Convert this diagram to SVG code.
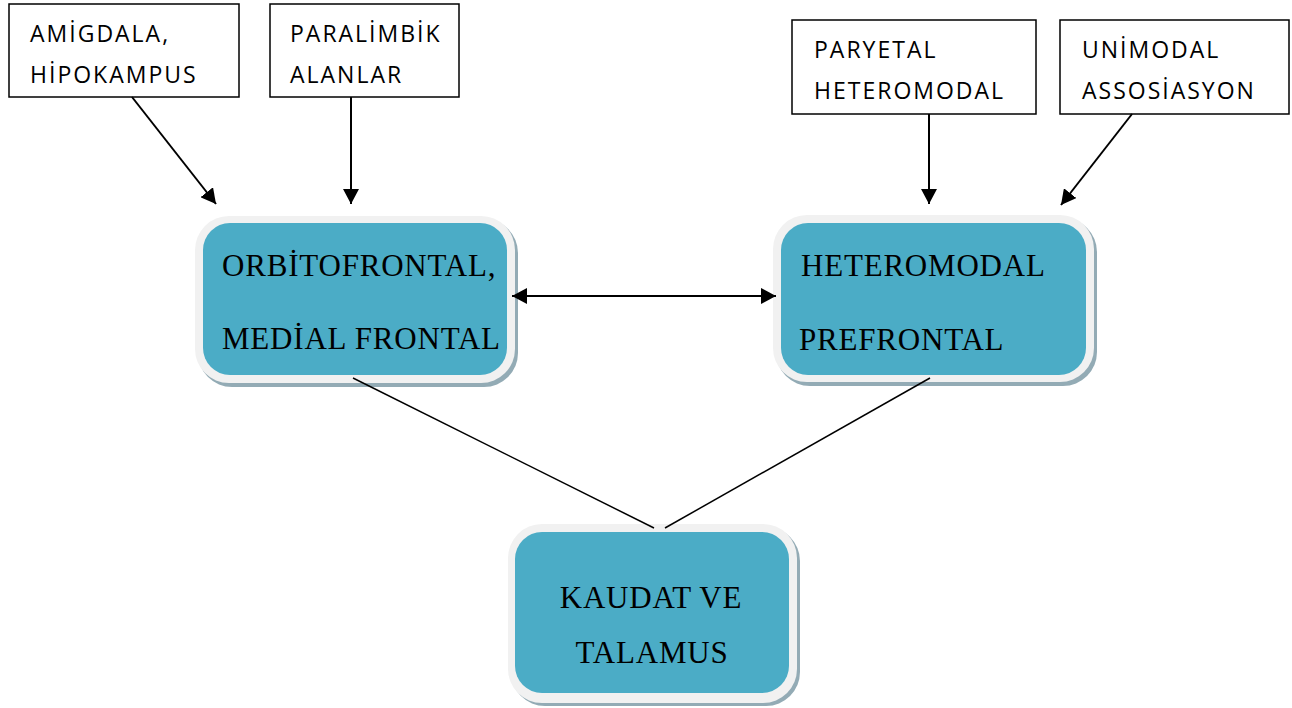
<svg xmlns="http://www.w3.org/2000/svg" width="1292" height="708" viewBox="0 0 1292 708">
<style>
.box{fill:#fff;stroke:#000;stroke-width:1.5}
.lbl{font-family:"Open Sans","Liberation Sans",sans-serif;font-size:23px;letter-spacing:2px;fill:#000}
.shadow{fill:#93abb5}
.outer{fill:#f1f1f1}
.inner{fill:#4bacc6}
.big{font-family:"Liberation Serif","Times New Roman",serif;font-size:31px;letter-spacing:0.8px;fill:#000}
.conn{stroke:#000;stroke-width:2;fill:none}
.plain{stroke:#000;stroke-width:1.5;fill:none}
</style>
<defs>
<marker id="ah" markerUnits="userSpaceOnUse" markerWidth="16" markerHeight="16" viewBox="0 0 16 16" refX="15" refY="8" orient="auto-start-reverse">
<path d="M0,0 L15,8 L0,16 Z" fill="#000"/>
</marker>
</defs>
<rect width="1292" height="708" fill="#fff"/>
<g id="amigdala">
<rect class="box" x="9" y="4" width="230" height="93"/>
<text class="lbl" x="30" y="42">AMİGDALA,</text>
<text class="lbl" x="30" y="83">HİPOKAMPUS</text>
</g>
<g id="paralimbik">
<rect class="box" x="270" y="4" width="189" height="93"/>
<text class="lbl" x="290" y="42">PARALİMBİK</text>
<text class="lbl" x="290" y="83">ALANLAR</text>
</g>
<g id="paryetal">
<rect class="box" x="792" y="20" width="244" height="94"/>
<text class="lbl" x="814" y="58">PARYETAL</text>
<text class="lbl" x="814" y="99">HETEROMODAL</text>
</g>
<g id="unimodal">
<rect class="box" x="1060" y="20" width="229" height="94"/>
<text class="lbl" x="1082" y="58">UNİMODAL</text>
<text class="lbl" x="1082" y="99">ASSOSİASYON</text>
</g>
<g id="orbitofrontal">
<rect class="shadow" x="198" y="219" width="320" height="168" rx="34"/>
<rect class="outer" x="195" y="216" width="320" height="167" rx="34"/>
<rect class="inner" x="203" y="223" width="304" height="152" rx="27"/>
<text class="big" x="222" y="276">ORBİTOFRONTAL,</text>
<text class="big" x="222" y="349">MEDİAL FRONTAL</text>
</g>
<g id="heteromodal">
<rect class="shadow" x="776" y="218" width="321" height="168" rx="34"/>
<rect class="outer" x="773" y="215" width="321" height="167" rx="34"/>
<rect class="inner" x="781" y="223" width="305" height="152" rx="27"/>
<text class="big" x="801" y="276">HETEROMODAL</text>
<text class="big" x="799" y="350">PREFRONTAL</text>
</g>
<g id="kaudat">
<rect class="shadow" x="511" y="527" width="289" height="179" rx="34"/>
<rect class="outer" x="508" y="524" width="289" height="179" rx="34"/>
<rect class="inner" x="515" y="532" width="274" height="161" rx="27"/>
<text class="big" x="651" y="608" text-anchor="middle">KAUDAT VE</text>
<text class="big" x="652" y="663" text-anchor="middle">TALAMUS</text>
</g>
<g id="connectors">
<line class="conn" x1="132" y1="97" x2="216" y2="204" marker-end="url(#ah)"/>
<line class="conn" x1="351" y1="97" x2="351" y2="204" marker-end="url(#ah)"/>
<line class="conn" x1="929" y1="114" x2="929" y2="204" marker-end="url(#ah)"/>
<line class="conn" x1="1132" y1="114" x2="1061" y2="205" marker-end="url(#ah)"/>
<line class="conn" x1="512" y1="296" x2="776" y2="296" marker-start="url(#ah)" marker-end="url(#ah)"/>
<line class="plain" x1="353" y1="378" x2="654" y2="528"/>
<line class="plain" x1="930" y1="378" x2="665" y2="528"/>
</g>
</svg>
